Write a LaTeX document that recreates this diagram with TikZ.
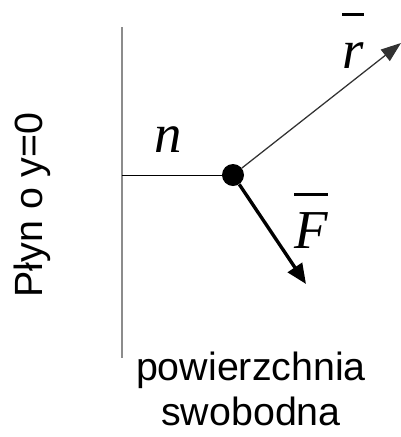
\RequirePackage{fix-cm}
\documentclass[tikz,border=0pt]{standalone}
\usepackage{fontspec}
\setmainfont{Liberation Sans}
\newfontfamily\symfont{Liberation Serif}
\usetikzlibrary{arrows.meta}
\definecolor{wallgray}{RGB}{140,140,140}
\definecolor{raygray}{RGB}{50,50,50}
% vector symbol with a high bar
\newcommand\barsym[1]{\setbox0\hbox{#1}\rlap{\raisebox{0.95em}{\rule{\wd0}{0.055em}}}\box0}

\begin{document}
\begin{tikzpicture}[x=0.025cm,y=-0.025cm,
    lbl/.style={font=\fontsize{28}{32}\selectfont, inner sep=0pt},
    sym/.style={font=\fontsize{39}{44}\selectfont\symfont\itshape, inner sep=0pt, anchor=base},
    dot/.style={circle, fill=black, minimum size=0.55cm, inner sep=0pt}]
    \useasboundingbox (0,0) rectangle (401,437);

    % Free surface (wall)
    \coordinate (walltop) at (122,27);
    \coordinate (wallbot) at (122,358);
    \coordinate (foot) at (122,175);
    \draw[wallgray, line width=1.8pt] (walltop) -- (wallbot);

    % Point and normal
    \node[dot] (p) at (233,175) {};
    \draw[line width=0.7pt] (foot) -- (p);

    % Vectors
    \coordinate (rtip) at (401,43);
    \coordinate (ftip) at (306,284);
    \draw[raygray, line width=0.9pt, -{Triangle[length=0.5cm,width=0.36cm]}] (p) -- (rtip);
    \draw[line width=2.4pt, -{Triangle[length=0.5cm,width=0.42cm]}] (p) -- (ftip);

    % Symbols
    \node[sym] (n) at (168,152) {n};
    \node[sym] (r) at (353,68) {\barsym{r}};
    \node[sym] (F) at (311,248) {\barsym{F}};

    % Labels
    \node[lbl, rotate=90] (fluid) at (32,205) {Płyn o y=0};
    \node[lbl, anchor=north, align=center] (surf) at (251,352) {powierzchnia\\swobodna};
\end{tikzpicture}
\end{document}
